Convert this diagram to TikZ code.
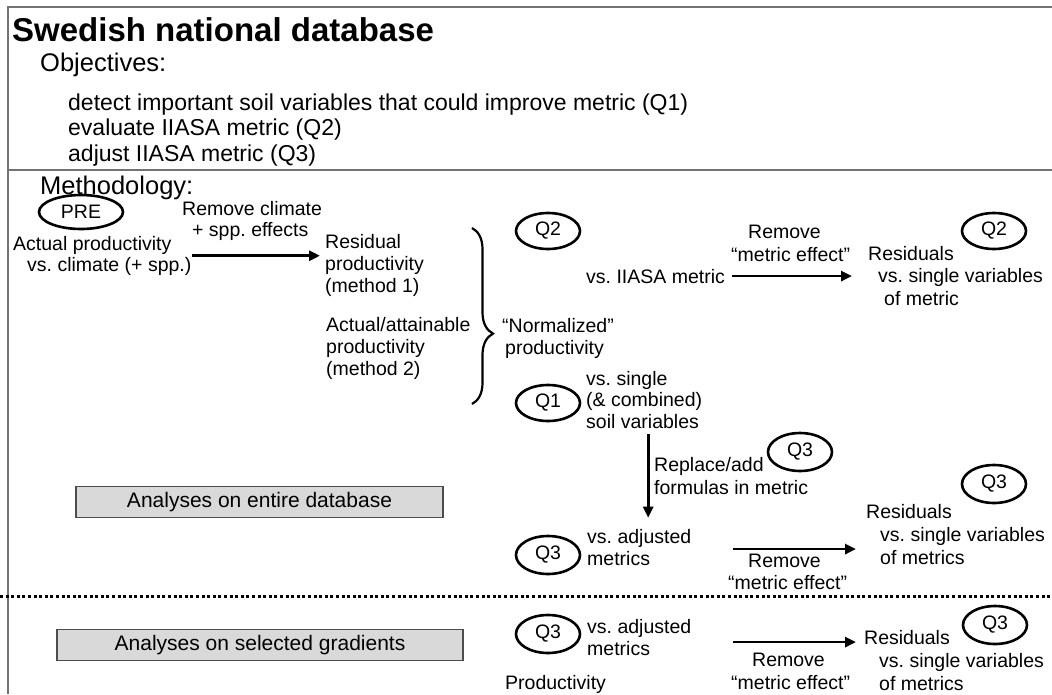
\documentclass[tikz,border=0pt]{standalone}
\usepackage{fontspec}
\setmainfont{Liberation Sans}
\frenchspacing
\usetikzlibrary{arrows.meta,shapes.geometric,decorations.pathreplacing}
\newcommand{\txtfont}{\fontsize{19.5}{21.5}\selectfont}
\tikzset{
  txt/.style={anchor=north west,inner sep=0pt,align=left,font=\txtfont},
  qoval/.style={draw,ellipse,line width=2.6pt,minimum width=64pt,minimum height=36pt,inner sep=0pt,font=\txtfont},
  flecha/.style={line width=2.8pt,-{Triangle[length=11pt,width=10pt]}},
  caja/.style={draw=black!70,fill=black!15,line width=1.2pt,minimum height=31pt,inner sep=0pt,font=\fontsize{21}{24}\selectfont},
  marco/.style={draw=black!55,line width=1.6pt},
}
\begin{document}
\begin{tikzpicture}[x=1pt,y=-1pt]
\useasboundingbox (0,0) rectangle (1052,694);
% Marco
\draw[marco] (1052,7) -- (8,7) -- (8,694);
\draw[marco] (8,170) -- (1052,170);
% Objectives
\node[anchor=north west,inner sep=0pt,font=\bfseries\fontsize{33}{36}\selectfont] (titulo) at (12,17) {Swedish national database};
\node[anchor=north west,inner sep=0pt,font=\fontsize{25.5}{28}\selectfont] (obj) at (40,52.6) {Objectives:};
\node[txt,font=\fontsize{23}{25.5}\selectfont] (objlist) at (68,93.5)
  {detect important soil variables that could improve metric (Q1)\\evaluate IIASA metric (Q2)\\adjust IIASA metric (Q3)};
% Methodology
\node[anchor=north west,inner sep=0pt,font=\fontsize{25.5}{28}\selectfont] (metodo) at (40,175.5) {Methodology:};
\node[qoval,minimum width=84pt,minimum height=34pt] (pre) at (81,212) {PRE};
\node[txt] (remclim) at (182,200.7) {Remove climate\\\hspace*{10pt}+ spp. effects};
\node[txt] (actual) at (13,235.7) {Actual productivity\\\hspace*{14pt}vs. climate (+ spp.)};
\node[txt,font=\fontsize{19.5}{22}\selectfont] (resid) at (325,233.7) {Residual\\productivity\\(method 1)};
\node[txt,font=\fontsize{19.5}{22}\selectfont] (attain) at (326,316.7) {Actual/attainable\\productivity\\(method 2)};
\draw[flecha] (actual.east) -- ([xshift=-5pt]actual.east -| resid.west);
\draw[decorate,decoration={brace,amplitude=21pt,aspect=0.6},line width=2.2pt] (472,228) -- (472,404);
\node[txt,font=\fontsize{19.5}{22}\selectfont] (norm) at (502,317.7) {“Normalized”\\\hspace*{3pt}productivity};
% Q2
\node[qoval] (q2a) at (548,231) {Q2};
\node[txt] (vsiiasa) at (586,268.7) {vs. IIASA metric};
\node[txt,font=\fontsize{19.5}{23}\selectfont] (rem2) at (731,224.7) {\hspace*{17pt}Remove\\“metric effect”};
\node[txt,font=\fontsize{19.5}{22.5}\selectfont] (res2) at (868,245.7)
  {Residuals\\\hspace*{10pt}vs. single variables\\\hspace*{16pt}of metric};
\node[qoval] (q2b) at (994,231) {Q2};
\draw[flecha] ([xshift=7pt]vsiiasa.east) -- ([xshift=-16pt]vsiiasa.east -| res2.west);
% Q1
\node[qoval] (q1) at (548,403) {Q1};
\node[txt] (vssingle) at (586,370.7) {vs. single\\(\& combined)\\soil variables};
\node[txt,font=\fontsize{19.5}{23}\selectfont] (replace) at (654,456.7) {Replace/add\\formulas in metric};
\node[qoval,minimum height=38pt] (q3a) at (800,452) {Q3};
% Q3, entire database
\node[caja,minimum width=367pt] (caja1) at (259.5,502) {Analyses on entire database};
\node[qoval,minimum height=38pt] (q3b) at (548,555) {Q3};
\node[txt,font=\fontsize{19.5}{22}\selectfont] (vsadj) at (587,528.7) {vs. adjusted\\metrics};
\draw[flecha] ([xshift=4pt,yshift=-6pt]vssingle.south) -- ([xshift=4pt,yshift=11pt]vssingle.south |- vsadj.north);
\node[txt,font=\fontsize{19.5}{22}\selectfont] (rem3) at (728,553.7) {\hspace*{20pt}Remove\\“metric effect”};
\node[txt,font=\fontsize{19.5}{23}\selectfont] (res3) at (866,503.7)
  {Residuals\\\hspace*{14pt}vs. single variables\\\hspace*{14pt}of metrics};
\node[qoval,minimum height=38pt] (q3c) at (994,484) {Q3};
\draw[flecha] ([xshift=42pt,yshift=-2pt]vsadj.east) -- ([xshift=-10pt,yshift=-2pt]vsadj.east -| res3.west);
% Gradients
\draw[line width=3pt,dash pattern=on 3pt off 2.6pt] (0,596) -- (1052,596);
\node[caja,minimum width=406pt] (caja2) at (260,645) {Analyses on selected gradients};
\node[qoval,minimum height=38pt] (q3d) at (548,634) {Q3};
\node[txt,font=\fontsize{19.5}{22}\selectfont] (vsadj2) at (587,618.7) {vs. adjusted\\metrics};
\node[txt] (prod) at (505,674.7) {Productivity};
\node[txt,font=\fontsize{19.5}{23}\selectfont] (rem4) at (731,652.7) {\hspace*{21pt}Remove\\“metric effect”};
\node[txt,font=\fontsize{19.5}{23}\selectfont] (res4) at (864,629.7)
  {Residuals\\\hspace*{15pt}vs. single variables\\\hspace*{15pt}of metrics};
\node[qoval,minimum height=38pt] (q3e) at (995,625) {Q3};
\draw[flecha] ([xshift=42pt,yshift=-5pt]vsadj2.east) -- ([xshift=-8pt,yshift=-5pt]vsadj2.east -| res4.west);
\end{tikzpicture}
\end{document}
